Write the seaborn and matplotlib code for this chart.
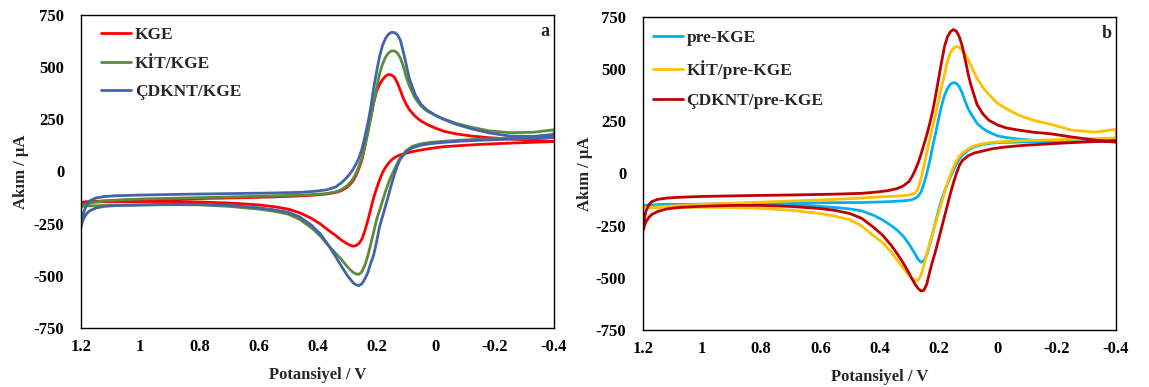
import matplotlib
matplotlib.use("Agg")
import matplotlib.pyplot as plt
import pandas as pd
import seaborn as sns

# ---------------- data ----------------
# potential grid of the scan 1.2 V -> -0.4 V (lower branch, cathodic peak)
V_lower = [1.2, 1.195, 1.19, 1.18, 1.17, 1.15, 1.12, 1.08, 1.0, 0.9,
           0.8, 0.7, 0.6, 0.55, 0.5, 0.46, 0.42, 0.39, 0.36, 0.34,
           0.32, 0.30, 0.29, 0.28, 0.27, 0.26, 0.25, 0.24, 0.23, 0.22,
           0.21, 0.20, 0.19, 0.18, 0.17, 0.16, 0.15, 0.14, 0.13, 0.12,
           0.10, 0.08, 0.05, 0.02, -0.02, -0.08, -0.15, -0.25, -0.33, -0.4]
# potential grid of the scan -0.4 V -> 1.2 V (upper branch, anodic peak)
V_upper = [-0.4, -0.33, -0.25, -0.18, -0.12, -0.07, -0.03, 0.0, 0.03, 0.05,
           0.07, 0.09, 0.10, 0.11, 0.12, 0.13, 0.14, 0.15, 0.16, 0.17,
           0.18, 0.19, 0.20, 0.21, 0.22, 0.23, 0.24, 0.25, 0.26, 0.27,
           0.28, 0.29, 0.30, 0.32, 0.34, 0.37, 0.41, 0.46, 0.55, 0.7,
           0.85, 1.0, 1.08, 1.12, 1.15, 1.17, 1.18, 1.19, 1.195, 1.2]

# panel a (currents in uA)
a_labels = ["KGE", "KİT/KGE", "ÇDKNT/KGE"]
a_kge_lower = [-148, -148, -147, -147, -146, -146, -145, -145, -144, -144,
               -146, -151, -160, -168, -180, -198, -225, -252, -285, -305,
               -328, -346, -353, -358, -355, -345, -325, -285, -235, -180,
               -125, -80, -40, -5, 20, 40, 55, 66, 74, 80,
               88, 95, 103, 110, 118, 124, 130, 136, 140, 144]
a_kge_upper = [144, 150, 156, 162, 170, 180, 192, 207, 226, 242,
               265, 298, 322, 352, 390, 425, 452, 463, 465, 457,
               440, 418, 385, 330, 262, 190, 120, 55, 15, -20,
               -45, -62, -75, -92, -101, -108, -113, -117, -122, -127,
               -131, -135, -139, -141, -143, -145, -146, -147, -148, -148]
a_kit_lower = [-168, -167, -166, -165, -165, -164, -163, -162, -161, -159,
               -160, -167, -180, -190, -204, -230, -270, -310, -360, -390,
               -420, -455, -470, -483, -491, -493, -480, -450, -405, -348,
               -290, -230, -185, -140, -95, -55, -20, 10, 40, 65,
               100, 120, 133, 139, 144, 150, 155, 160, 165, 170]
a_kit_upper = [200, 188, 186, 195, 212, 230, 250, 268, 290, 314,
               352, 412, 455, 505, 545, 568, 578, 578, 568, 548,
               515, 470, 400, 330, 255, 185, 120, 65, 25, -10,
               -35, -55, -68, -88, -98, -106, -110, -113, -117, -122,
               -127, -132, -137, -141, -146, -151, -155, -160, -164, -168]
a_cdknt_lower = [-264, -240, -222, -200, -188, -175, -167, -163, -160, -157,
                 -157, -162, -174, -183, -195, -218, -258, -300, -360, -405,
                 -452, -497, -515, -532, -543, -547, -538, -515, -485, -440,
                 -400, -335, -264, -215, -165, -115, -62, -15, 28, 60,
                 95, 113, 126, 133, 139, 145, 150, 155, 159, 163]
a_cdknt_upper = [178, 168, 170, 185, 205, 226, 248, 268, 295, 322,
                 370, 447, 512, 575, 630, 656, 666, 667, 658, 638,
                 605, 552, 480, 400, 305, 230, 165, 106, 65, 35,
                 10, -10, -28, -55, -75, -88, -95, -100, -103, -106,
                 -109, -113, -116, -120, -127, -140, -158, -190, -220, -264]

# panel b (currents in uA)
b_labels = ["pre-KGE", "KİT/pre-KGE", "ÇDKNT/pre-KGE"]
b_pre_lower = [-153, -153, -152, -152, -152, -151, -150, -149, -148, -147,
               -148, -151, -158, -163, -170, -179, -200, -222, -250, -272,
               -300, -338, -362, -385, -410, -425, -418, -390, -340, -285,
               -230, -175, -125, -85, -50, -15, 15, 45, 70, 88,
               112, 128, 140, 146, 149, 151, 152, 153, 154, 155]
b_pre_upper = [165, 160, 157, 157, 159, 165, 172, 180, 198, 215,
               240, 285, 310, 345, 385, 415, 432, 436, 428, 408,
               375, 325, 262, 195, 130, 60, 0, -50, -90, -110,
               -120, -125, -128, -131, -133, -135, -137, -139, -140, -142,
               -144, -147, -149, -150, -151, -152, -152, -153, -153, -153]
b_kit_lower = [-165, -165, -165, -164, -164, -163, -163, -162, -162, -163,
               -167, -176, -192, -205, -222, -252, -298, -330, -378, -415,
               -452, -490, -503, -511, -512, -490, -440, -383, -335, -285,
               -237, -188, -140, -92, -45, -5, 30, 60, 82, 98,
               118, 132, 143, 149, 153, 157, 160, 164, 167, 170]
b_kit_upper = [212, 198, 208, 235, 255, 280, 310, 335, 378, 412,
               455, 515, 545, 572, 590, 605, 608, 600, 580, 540,
               475, 415, 350, 285, 225, 165, 100, 35, -25, -75,
               -95, -100, -103, -106, -108, -110, -113, -118, -124, -132,
               -140, -148, -154, -157, -160, -162, -163, -164, -165, -165]
b_cdknt_lower = [-273, -250, -232, -210, -196, -182, -170, -163, -157, -153,
                 -153, -158, -168, -177, -192, -215, -258, -295, -345, -385,
                 -428, -478, -505, -530, -550, -563, -560, -530, -470, -418,
                 -370, -315, -260, -205, -150, -95, -45, 0, 38, 62,
                 85, 98, 108, 118, 126, 134, 140, 148, 153, 158]
b_cdknt_upper = [150, 160, 175, 190, 198, 208, 218, 232, 255, 285,
                 330, 420, 475, 545, 610, 655, 682, 690, 680, 655,
                 610, 535, 455, 375, 300, 240, 185, 138, 90, 48,
                 14, -15, -38, -60, -72, -82, -89, -95, -99, -103,
                 -106, -110, -114, -118, -124, -135, -150, -180, -215, -273]

x_ticks = [1.2, 1.0, 0.8, 0.6, 0.4, 0.2, 0.0, -0.2, -0.4]
x_tick_labels = ["1.2", "1", "0.8", "0.6", "0.4", "0.2", "0", "-0.2", "-0.4"]
y_ticks = [-750, -500, -250, 0, 250, 500, 750]
y_tick_labels = ["-750", "-500", "-250", "0", "250", "500", "750"]

# ---------------- style ----------------
sns.set_theme(style="white")
plt.rcParams['font.family'] = ['Liberation Serif', 'DejaVu Serif']
plt.rcParams['font.weight'] = 'bold'
plt.rcParams['axes.unicode_minus'] = False

a_colors = ["#FF0000", "#5B8C3C", "#4364A8"]
b_colors = ["#00B0F0", "#FFC000", "#C00000"]

fig = plt.figure(figsize=(11.49, 3.87), dpi=100)
ax_a = fig.add_axes([0.0705, 0.1525, 0.4117, 0.8087])
ax_b = fig.add_axes([0.5596, 0.1473, 0.4117, 0.8088])


def loop_frame(lower, upper):
    return pd.DataFrame({"V": V_lower + V_upper, "I": lower + upper})


panels = [
    (ax_a, a_labels, [(a_kge_lower, a_kge_upper), (a_kit_lower, a_kit_upper),
                      (a_cdknt_lower, a_cdknt_upper)], a_colors, "a",
     -0.110, (0.0275, 0.984), 0.71),
    (ax_b, b_labels, [(b_pre_lower, b_pre_upper), (b_kit_lower, b_kit_upper),
                      (b_cdknt_lower, b_cdknt_upper)], b_colors, "b",
     -0.106, (0.006, 0.980), 0.80),
]

for ax, labels, curves, colors, letter, ylab_x, leg_anchor, leg_sp in panels:
    for name, (lo, up), col in zip(labels, curves, colors):
        df = loop_frame(lo, up)
        sns.lineplot(data=df, x="V", y="I", sort=False, estimator=None,
                     color=col, lw=2.0, label=name, ax=ax)
    ax.set_xlim(1.2, -0.4)
    ax.set_ylim(-750, 750)
    ax.set_xticks(x_ticks)
    ax.set_xticklabels(x_tick_labels, fontsize=12, fontweight="bold")
    ax.set_yticks(y_ticks)
    ax.set_yticklabels(y_tick_labels, fontsize=12, fontweight="bold")
    ax.tick_params(axis="x", direction="in", length=5, width=1, pad=8, colors="black")
    ax.tick_params(axis="y", direction="out", length=5, width=1, pad=7, colors="black")
    for sp in ax.spines.values():
        sp.set_color("black")
        sp.set_linewidth(1.0)
        sp.set_visible(True)
    ax.set_xlabel("Potansiyel / V", fontsize=12, fontweight="bold")
    ax.set_ylabel("Akım / µA", fontsize=12, fontweight="bold")
    ax.xaxis.set_label_coords(0.5, -0.125)
    ax.yaxis.set_label_coords(ylab_x, 0.5)
    leg = ax.legend(loc="upper left", bbox_to_anchor=leg_anchor, frameon=False,
                    prop={"size": 12.5, "weight": "bold"}, handlelength=1.75,
                    handletextpad=0.2, labelspacing=leg_sp, borderaxespad=0.0)
    for line in leg.get_lines():
        line.set_linewidth(2.0)
    ax.text(0.99, 0.975, letter, transform=ax.transAxes, ha="right", va="top",
            fontsize=13, fontweight="bold")
    ax.grid(False)

fig.savefig("out.png", dpi=100)
